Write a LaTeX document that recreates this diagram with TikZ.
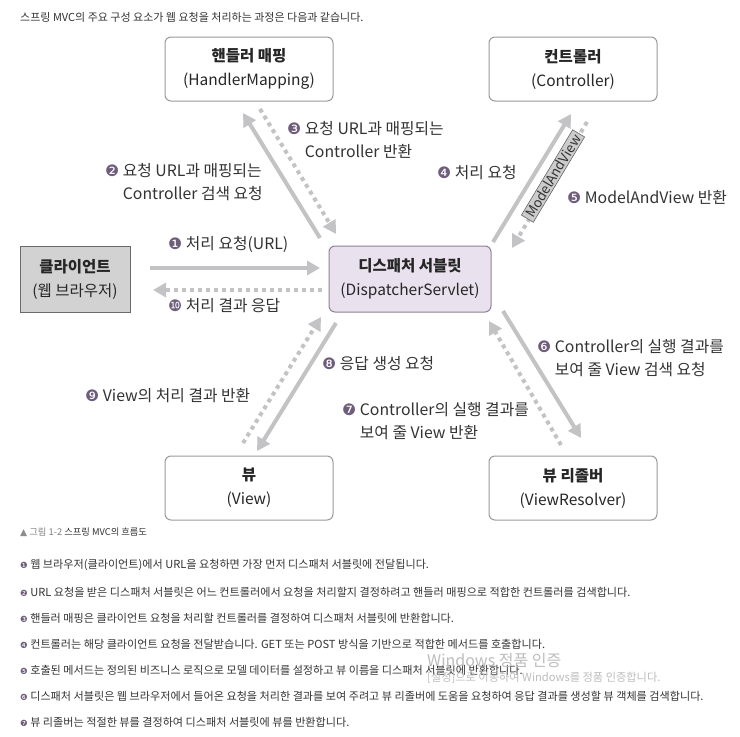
\documentclass[tikz,border=0pt]{standalone}
\usepackage{fontspec}
\setmainfont{Noto Sans CJK KR}
\newfontfamily\djv{DejaVu Sans}
\usetikzlibrary{arrows.meta}
\definecolor{arr}{HTML}{C3C3C6}
\definecolor{bul}{HTML}{6E5E7C}
\definecolor{txt}{HTML}{333333}
\definecolor{boxline}{HTML}{9A9A9A}
\definecolor{dsfill}{HTML}{EAE1EE}
\definecolor{dsline}{HTML}{8E8196}
\definecolor{clfill}{HTML}{D2D2D2}
\definecolor{clline}{HTML}{6A6A6A}
\definecolor{wmark}{HTML}{BDBDBD}
\newcommand{\bn}[1]{{\color{bul}\djv #1}}
\newcommand{\sbn}[1]{{\color{bul}\djv\fontsize{8.5}{10}\selectfont #1}}
\begin{document}
\begin{tikzpicture}[x=1pt,y=-1pt,
  box/.style={draw=boxline, line width=1pt, rounded corners=6pt, fill=white,
    minimum width=168pt, minimum height=64pt, align=center,
    font=\fontsize{15.5}{24}\selectfont, text=black!85},
  solidarr/.style={draw=arr, line width=4pt, -{Triangle[length=13pt,width=14pt]}},
  dasharr/.style={solidarr, dash pattern=on 4pt off 4pt},
  lbl/.style={anchor=west, align=left, font=\fontsize{15.8}{23}\selectfont, text=txt, inner sep=0pt},
  itemtxt/.style={anchor=west, font=\fontsize{11.1}{12}\selectfont, text=txt, inner sep=0pt}
]
\path[use as bounding box, fill=white] (0,0) rectangle (740,737);

% top caption
\node[itemtxt, font=\fontsize{11}{13}\selectfont] (cap) at (20,17) {스프링 MVC의 주요 구성 요소가 웹 요청을 처리하는 과정은 다음과 같습니다.};

% boxes
\node[box] (hm) at (249,69) {\textbf{핸들러 매핑}\\(HandlerMapping)};
\node[box] (ct) at (573,69) {\textbf{컨트롤러}\\(Controller)};
\node[box, rounded corners=0pt, fill=clfill, draw=clline, minimum width=110pt, minimum height=66pt] (cl) at (75,279) {\textbf{클라이언트}\\(웹 브라우저)};
\node[box, fill=dsfill, draw=dsline, minimum width=162pt, minimum height=66pt] (ds) at (410,279) {\textbf{디스패처 서블릿}\\(DispatcherServlet)};
\node[box] (vw) at (249,488) {\textbf{뷰}\\(View)};
\node[box] (vr) at (573,488) {\textbf{뷰 리졸버}\\(ViewResolver)};

% arrow end points
\coordinate (a1s) at (150,268); \coordinate (a1e) at (320,268);
\coordinate (a10s) at (322,290); \coordinate (a10e) at (153,290);
\coordinate (a2s) at (320,238); \coordinate (a2e) at (243,113);
\coordinate (a3s) at (260,109); \coordinate (a3e) at (336,234);
\coordinate (a4s) at (493,242); \coordinate (a4e) at (571,114);
\coordinate (a5s) at (587,122); \coordinate (a5e) at (512,248);
\coordinate (a6s) at (503,311); \coordinate (a6e) at (581,438);
\coordinate (a7s) at (561,445); \coordinate (a7e) at (489,321);
\coordinate (a8s) at (336,323); \coordinate (a8e) at (257,451);
\coordinate (a9s) at (243,443); \coordinate (a9e) at (321,317);

\draw[solidarr] (a1s) -- (a1e);
\draw[dasharr] (a10s) -- (a10e);
\draw[solidarr] (a2s) -- (a2e);
\draw[dasharr] (a3s) -- (a3e);
\draw[solidarr] (a4s) -- (a4e);
\draw[dasharr] (a5s) -- (a5e);
\draw[solidarr] (a6s) -- (a6e);
\draw[dasharr] (a7s) -- (a7e);
\draw[solidarr] (a8s) -- (a8e);
\draw[dasharr] (a9s) -- (a9e);

\node[draw=black!60, line width=0.6pt, fill=black!20, rotate=59, inner xsep=3pt, inner ysep=1.5pt,
  font=\fontsize{13.5}{15}\selectfont, text=black!80] (mav) at (553,176) {ModelAndView};

% labels
\node[lbl] (l1) at (168,244) {\bn{❶} 처리 요청(URL)};
\node[lbl] (l10) at (168,306) {\bn{❿} 처리 결과 응답};
\node[lbl] (l2) at (105,182) {\bn{❷} 요청 URL과 매핑되는\\\phantom{\bn{❷} }Controller 검색 요청};
\node[lbl] (l3) at (287,139.5) {\bn{❸} 요청 URL과 매핑되는\\\phantom{\bn{❸} }Controller 반환};
\node[lbl] (l4) at (437,173) {\bn{❹} 처리 요청};
\node[lbl] (l5) at (567,197) {\bn{❺} ModelAndView 반환};
\node[lbl] (l6) at (537,358.5) {\bn{❻} Controller의 실행 결과를\\\phantom{\bn{❻} }보여 줄 View 검색 요청};
\node[lbl] (l7) at (342,421.5) {\bn{❼} Controller의 실행 결과를\\\phantom{\bn{❼} }보여 줄 View 반환};
\node[lbl] (l8) at (322,364) {\bn{❽} 응답 생성 요청};
\node[lbl] (l9) at (85,396) {\bn{❾} View의 처리 결과 반환};

% figure caption
\node[itemtxt, font=\fontsize{9.3}{10}\selectfont] (fig) at (20,532) {{\color{black!45}\djv ▲} {\color{black!50}그림 1-2} 스프링 MVC의 흐름도};

% list
\node[itemtxt] (i1) at (20,565) {\sbn{❶} 웹 브라우저(클라이언트)에서 URL을 요청하면 가장 먼저 디스패처 서블릿에 전달됩니다.};
\node[itemtxt] (i2) at (20,592) {\sbn{❷} URL 요청을 받은 디스패처 서블릿은 어느 컨트롤러에서 요청을 처리할지 결정하려고 핸들러 매핑으로 적합한 컨트롤러를 검색합니다.};
\node[itemtxt] (i3) at (20,618) {\sbn{❸} 핸들러 매핑은 클라이언트 요청을 처리할 컨트롤러를 결정하여 디스패처 서블릿에 반환합니다.};
\node[itemtxt] (i4) at (20,644) {\sbn{❹} 컨트롤러는 해당 클라이언트 요청을 전달받습니다. GET 또는 POST 방식을 기반으로 적합한 메서드를 호출합니다.};
\node[itemtxt] (i5) at (20,670) {\sbn{❺} 호출된 메서드는 정의된 비즈니스 로직으로 모델 데이터를 설정하고 뷰 이름을 디스패처 서블릿에 반환합니다.};
\node[itemtxt] (i6) at (20,696) {\sbn{❻} 디스패처 서블릿은 웹 브라우저에서 들어온 요청을 처리한 결과를 보여 주려고 뷰 리졸버에 도움을 요청하여 응답 결과를 생성할 뷰 객체를 검색합니다.};
\node[itemtxt] (i7) at (20,722) {\sbn{❼} 뷰 리졸버는 적절한 뷰를 결정하여 디스패처 서블릿에 뷰를 반환합니다.};

% watermark
\node[itemtxt, text=wmark, font=\fontsize{16}{18}\selectfont] (wm1) at (427,660) {Windows 정품 인증};
\node[itemtxt, text=wmark, font=\fontsize{11.2}{12}\selectfont] (wm2) at (427,678) {[설정]으로 이동하여 Windows를 정품 인증합니다.};
\end{tikzpicture}
\end{document}
